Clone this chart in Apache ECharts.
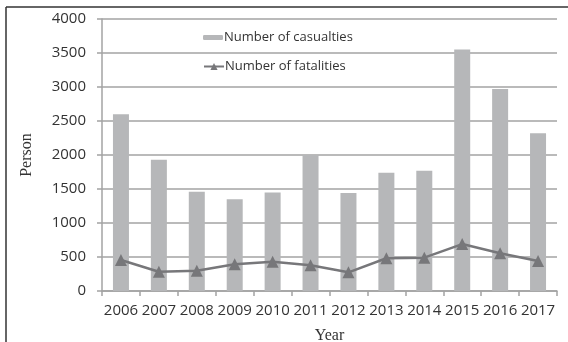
<!DOCTYPE html>
<html>
<head>
<meta charset="utf-8">
<script src="https://cdn.jsdelivr.net/npm/echarts@6/dist/echarts.min.js"></script>
<style>
  html, body { margin: 0; padding: 0; background: #fff; }
  #chart { width: 568px; height: 342px; }
</style>
</head>
<body>
<div id="chart"></div>
<script>
// Yearly road accident figures
const years = ['2006', '2007', '2008', '2009', '2010', '2011', '2012', '2013', '2014', '2015', '2016', '2017'];
const casualties = [2600, 1930, 1460, 1350, 1450, 2000, 1440, 1740, 1770, 3550, 2970, 2320];
const fatalities = [456, 284, 299, 392, 431, 378, 275, 481, 490, 690, 554, 440];
const yTicks = { min: 0, max: 4000, interval: 500 };

const axisGray = '#a3a3a3';
const textGray = '#333333';
const sansFont = '"Open Sans", sans-serif';
const serifFont = '"Liberation Serif", "Times New Roman", serif';

const chart = echarts.init(document.getElementById('chart'), null, { renderer: 'canvas' });

chart.setOption({
  animation: false,
  backgroundColor: '#fff',
  grid: { left: 102, right: 11, top: 19, bottom: 51, containLabel: false, outerBoundsMode: 'none' },
  legend: [
    {
      data: ['Number of casualties'],
      left: 203, top: 26, padding: [5, 0, 5, 0],
      itemWidth: 20, itemHeight: 5, itemGap: 0,
      textStyle: { fontFamily: sansFont, fontSize: 13, color: textGray, padding: [0, 0, 0, -4] }
    },
    {
      data: ['Number of fatalities'],
      left: 203, top: 55, padding: [5, 0, 5, 0],
      itemWidth: 20, itemHeight: 9, itemGap: 0,
      textStyle: { fontFamily: sansFont, fontSize: 13, color: textGray, padding: [0, 0, 0, -4] }
    }
  ],
  xAxis: {
    type: 'category',
    data: years,
    boundaryGap: true,
    name: 'Year',
    nameLocation: 'middle',
    nameGap: 37,
    nameTextStyle: { fontFamily: serifFont, fontSize: 16, color: textGray },
    axisLine: { lineStyle: { color: axisGray, width: 1.5 } },
    axisTick: { show: true, length: 5, interval: 0, lineStyle: { color: axisGray, width: 1.5 } },
    axisLabel: { interval: 0, hideOverlap: false, margin: 12, fontFamily: sansFont, fontSize: 15, color: textGray }
  },
  yAxis: {
    type: 'value',
    min: yTicks.min, max: yTicks.max, interval: yTicks.interval,
    name: 'Person',
    nameLocation: 'middle',
    nameGap: 67,
    nameRotate: 90,
    nameTextStyle: { fontFamily: serifFont, fontSize: 16, color: textGray },
    axisLine: { show: true, lineStyle: { color: axisGray, width: 1.5 } },
    axisTick: { show: true, length: 5, lineStyle: { color: axisGray, width: 1.5 } },
    axisLabel: { margin: 16, fontFamily: sansFont, fontSize: 15, color: textGray, formatter: v => String(v) },
    splitLine: { lineStyle: { color: axisGray, width: 1.5 } }
  },
  series: [
    {
      name: 'Number of casualties',
      type: 'bar',
      data: casualties,
      barWidth: 16,
      itemStyle: { color: '#b6b7b9' }
    },
    {
      name: 'Number of fatalities',
      type: 'line',
      data: fatalities,
      symbol: 'triangle',
      symbolSize: 12,
      lineStyle: { color: '#77777a', width: 2.5 },
      itemStyle: { color: '#77777a' },
      z: 3
    }
  ],
  graphic: [
    // outer frame edges along the top and left
    { type: 'line', shape: { x1: 6, y1: 7, x2: 568, y2: 7 }, style: { stroke: '#333', lineWidth: 1.5 }, silent: true },
    { type: 'line', shape: { x1: 6, y1: 7, x2: 6, y2: 342 }, style: { stroke: '#333', lineWidth: 1.5 }, silent: true }
  ]
});
</script>
</body>
</html>
